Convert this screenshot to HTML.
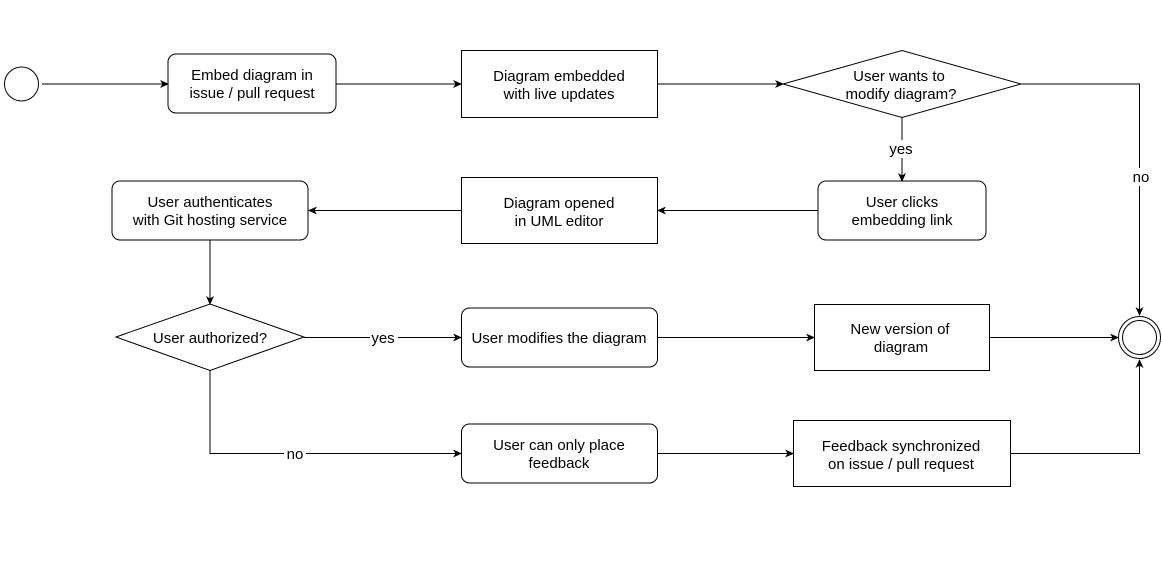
<!DOCTYPE html>
<html><head><meta charset="utf-8"><style>body{margin:0;background:#fff}svg{display:block}text{font-family:"Liberation Sans",Arial,sans-serif;font-size:15px;fill:#000}</style></head><body>
<svg width="1162" height="561" viewBox="0 0 1162 561" xmlns="http://www.w3.org/2000/svg">
<defs><marker id="a" markerWidth="10" markerHeight="10" refX="8" refY="5" orient="auto" markerUnits="userSpaceOnUse"><path d="M0,1 L9,5 L0,9 L2.5,5 Z" fill="#000"/></marker></defs>
<g fill="none" stroke="#000" stroke-width="1">
<circle cx="21.5" cy="84" r="17"/>
<rect x="168" y="54" width="168" height="59" rx="8"/>
<rect x="461.5" y="50.5" width="196" height="67"/>
<polygon points="783,84 902,50.5 1021,84 902,117.5"/>
<rect x="818" y="181" width="168" height="59" rx="8"/>
<rect x="461.5" y="177.5" width="196" height="66"/>
<rect x="112" y="181" width="196" height="59" rx="8"/>
<polygon points="116,337 210,304 304,337 210,370.5"/>
<rect x="461.5" y="308" width="196" height="59" rx="8"/>
<rect x="814.5" y="304.5" width="175" height="66"/>
<circle cx="1139.5" cy="337.5" r="21"/><circle cx="1139.5" cy="337.5" r="17"/>
<rect x="461.5" y="424" width="196" height="59" rx="8"/>
<rect x="793.5" y="420.5" width="217" height="66"/>
<g marker-end="url(#a)">
<path d="M42,84H168"/><path d="M336,84H461"/><path d="M657,84H783"/>
<path d="M1021,84H1139.5V315"/><path d="M902,117V181"/>
<path d="M818,210.5H658"/><path d="M461,210.5H309"/>
<path d="M210,240V304"/><path d="M304,337.5H461"/><path d="M657,337.5H814"/>
<path d="M989,337.5H1118"/><path d="M210,370V453.5H461"/><path d="M657,453.5H793"/>
<path d="M1010,453.5H1139.5V360"/>
</g></g>
<g text-anchor="middle">
<text x="252" y="80">Embed diagram in</text><text x="252" y="98">issue / pull request</text>
<text x="559" y="81">Diagram embedded</text><text x="559" y="99">with live updates</text>
<text x="899" y="81">User wants to</text><text x="901" y="99">modify diagram?</text>
<text x="902" y="207">User clicks</text><text x="902" y="225">embedding link</text>
<text x="559" y="208">Diagram opened</text><text x="559" y="226">in UML editor</text>
<text x="210" y="207">User authenticates</text><text x="210" y="225">with Git hosting service</text>
<text x="210" y="343">User authorized?</text>
<text x="559" y="343">User modifies the diagram</text>
<text x="900" y="334">New version of</text><text x="901" y="352">diagram</text>
<text x="559" y="450">User can only place</text><text x="559" y="468">feedback</text>
<text x="901" y="451">Feedback synchronized</text><text x="901" y="469">on issue / pull request</text>
<rect x="888" y="140" width="28" height="18" fill="#fff"/><text x="901" y="154">yes</text>
<rect x="1130" y="168" width="24" height="18" fill="#fff"/><text x="1141" y="182">no</text>
<rect x="370" y="329" width="28" height="18" fill="#fff"/><text x="383" y="343">yes</text>
<rect x="284" y="445" width="22" height="18" fill="#fff"/><text x="295" y="459">no</text>
</g>
</svg>
</body></html>
